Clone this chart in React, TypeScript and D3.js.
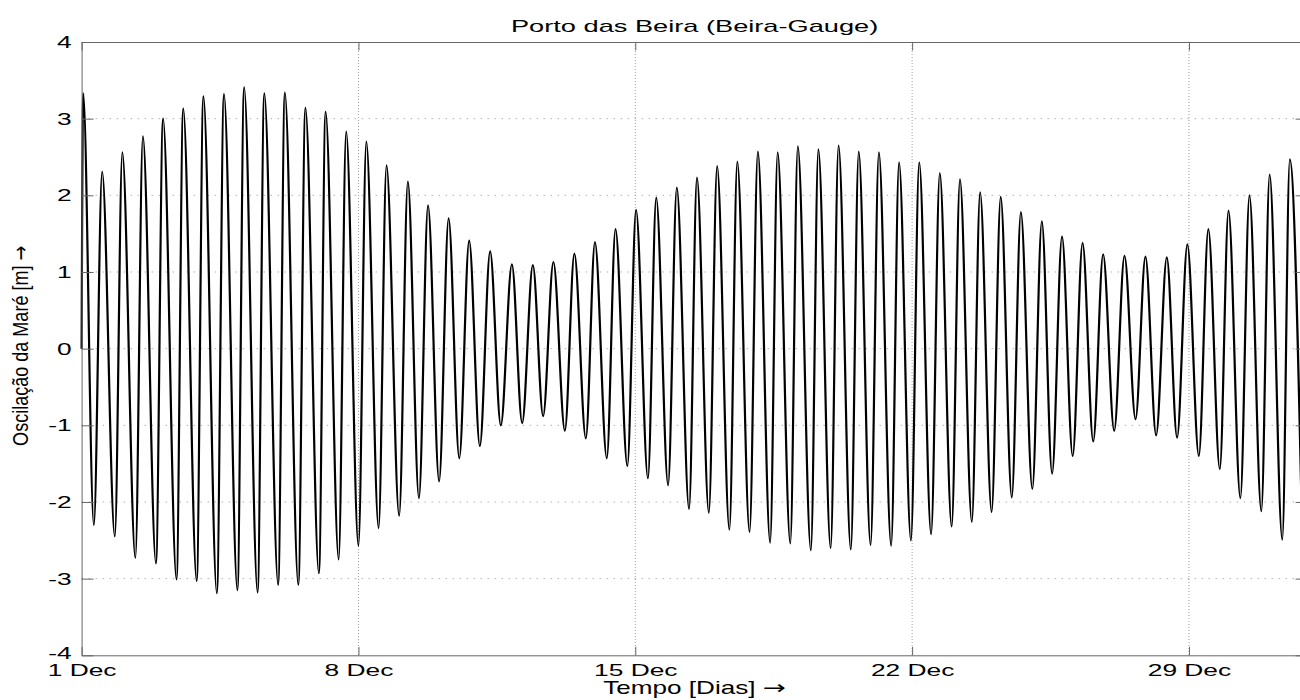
import { useEffect, useRef } from 'react';
import * as d3 from 'd3';

const title = 'Porto das Beira (Beira-Gauge)';
const xLabel = 'Tempo [Dias]';
const yLabel = 'Oscilação da Maré [m]';
const arrow = '→';

// x in days since 1 Dec 00:00
const dayDomain = [0, 31];
const dayTicks = [0, 7, 14, 21, 28];
const dayTickLabels = ['1 Dec', '8 Dec', '15 Dec', '22 Dec', '29 Dec'];
const levelTicks = [-4, -3, -2, -1, 0, 1, 2, 3, 4];

// first samples of the record (spike at the start)
const startTimes = [0.0, 0.04];
const startLevels = [0.0, 3.33];

// high waters (days, m)
const highTimes = [
  0.52, 1.03, 1.55, 2.06, 2.57, 3.08, 3.6, 4.11, 4.62, 5.14,
  5.66, 6.17, 6.69, 7.2, 7.71, 8.25, 8.76, 9.28, 9.8, 10.33,
  10.88, 11.41, 11.93, 12.46, 12.98, 13.5, 14.02, 14.53, 15.05, 15.56,
  16.07, 16.58, 17.1, 17.6, 18.11, 18.63, 19.14, 19.65, 20.16, 20.67,
  21.18, 21.7, 22.21, 22.72, 23.24, 23.75, 24.28, 24.79, 25.31, 25.83,
  26.37, 26.9, 27.44, 27.96, 28.49, 29.0, 29.53, 30.04, 30.55,
];
const highLevels = [
  2.31, 2.56, 2.77, 3.0, 3.13, 3.29, 3.32, 3.41, 3.33, 3.34,
  3.14, 3.09, 2.83, 2.7, 2.39, 2.18, 1.87, 1.7, 1.41, 1.27,
  1.1, 1.09, 1.13, 1.24, 1.39, 1.56, 1.81, 1.97, 2.1, 2.23,
  2.38, 2.44, 2.57, 2.56, 2.64, 2.6, 2.65, 2.57, 2.56, 2.43,
  2.43, 2.29, 2.21, 2.04, 1.98, 1.78, 1.66, 1.46, 1.38, 1.23,
  1.21, 1.2, 1.19, 1.36, 1.56, 1.8, 2.0, 2.27, 2.47,
];

// low waters (days, m)
const lowTimes = [
  0.31, 0.84, 1.36, 1.88, 2.4, 2.91, 3.42, 3.94, 4.45, 4.97,
  5.48, 6.0, 6.5, 7.0, 7.51, 8.03, 8.53, 9.04, 9.55, 10.07,
  10.6, 11.14, 11.67, 12.22, 12.75, 13.28, 13.8, 14.32, 14.83, 15.36,
  15.86, 16.38, 16.89, 17.41, 17.92, 18.44, 18.94, 19.45, 19.95, 20.47,
  20.97, 21.48, 22.0, 22.51, 23.01, 23.52, 24.04, 24.54, 25.06, 25.58,
  26.11, 26.65, 27.17, 27.7, 28.25, 28.78, 29.3, 29.83, 30.36, 30.87,
];
const lowLevels = [
  -2.3, -2.45, -2.73, -2.8, -3.01, -3.03, -3.19, -3.15, -3.18, -3.08,
  -3.08, -2.93, -2.75, -2.57, -2.34, -2.18, -1.95, -1.73, -1.43, -1.27,
  -1.0, -0.97, -0.88, -1.07, -1.17, -1.43, -1.53, -1.69, -1.78, -2.09,
  -2.14, -2.36, -2.39, -2.53, -2.54, -2.63, -2.6, -2.62, -2.56, -2.57,
  -2.5, -2.42, -2.32, -2.26, -2.13, -1.94, -1.83, -1.63, -1.4, -1.21,
  -1.07, -0.92, -1.13, -1.16, -1.4, -1.57, -1.95, -2.12, -2.49, -2.6,
];

const FONT = '"Liberation Sans", Arial, Helvetica, sans-serif';
const ARROW_FONT = '"DejaVu Sans", sans-serif';

export default function App() {
  const ref = useRef<SVGSVGElement | null>(null);

  useEffect(() => {
    const svg = d3.select(ref.current);
    svg.selectAll('*').remove();

    const margin = { top: 42, left: 81.6 };
    const width = 1226;
    const height = 613.3;

    const points = [
      ...startTimes.map((t, i) => [t, startLevels[i]]),
      ...highTimes.map((t, i) => [t, highLevels[i]]),
      ...lowTimes.map((t, i) => [t, lowLevels[i]]),
    ].sort((a, b) => a[0] - b[0]);

    const x = d3.scaleLinear().domain(dayDomain).range([0, width]);
    const y = d3.scaleLinear().domain([-4, 4]).range([height, 0]);

    const g = svg.append('g').attr('transform', `translate(${margin.left},${margin.top})`);

    // grid
    g.append('g')
      .selectAll('line')
      .data(levelTicks.slice(1, -1))
      .join('line')
      .attr('x1', 0)
      .attr('x2', width)
      .attr('y1', d => y(d))
      .attr('y2', d => y(d))
      .attr('stroke', '#b0b0b0')
      .attr('stroke-dasharray', '1.5,5.5');

    g.append('g')
      .selectAll('line')
      .data(dayTicks.slice(1))
      .join('line')
      .attr('x1', d => x(d))
      .attr('x2', d => x(d))
      .attr('y1', 0)
      .attr('y2', height)
      .attr('stroke', '#a0a0a0')
      .attr('stroke-dasharray', '1,2');

    // tide curve
    const line = d3.line()
      .x(d => x(d[0]))
      .y(d => y(d[1]))
      .curve(d3.curveMonotoneX);

    g.append('path')
      .datum(points)
      .attr('fill', 'none')
      .attr('stroke', '#000')
      .attr('stroke-width', 2.2)
      .attr('stroke-linejoin', 'round')
      .attr('d', line);

    // axes (MATLAB style, ticks inward)
    const styleAxis = sel => {
      sel.select('.domain').attr('stroke', '#666');
      sel.selectAll('.tick line').attr('stroke', '#666');
      sel.selectAll('text')
        .attr('fill', '#000')
        .attr('font-family', FONT)
        .attr('font-size', 17);
    };

    g.append('g')
      .attr('transform', `translate(0,${height})`)
      .call(d3.axisBottom(x)
        .tickValues(dayTicks)
        .tickFormat((d, i) => dayTickLabels[i])
        .tickSizeInner(-8.5)
        .tickSizeOuter(0)
        .tickPadding(9))
      .call(styleAxis)
      .selectAll('text')
      .attr('transform', 'scale(1.55,1)');

    g.append('g')
      .call(d3.axisTop(x).tickValues(dayTicks).tickFormat(() => '').tickSizeInner(-8.5).tickSizeOuter(0))
      .call(styleAxis);

    g.append('g')
      .call(d3.axisLeft(y)
        .tickValues(levelTicks)
        .tickFormat(d3.format('d'))
        .tickSizeInner(-12)
        .tickSizeOuter(0)
        .tickPadding(10))
      .call(styleAxis)
      .selectAll('text')
      .text(d => String(d))
      .attr('transform', 'scale(1.55,1)')
      .attr('x', -10 / 1.55)
      .attr('dy', d => (d === -4 ? '0.2em' : '0.32em'));

    g.append('g')
      .attr('transform', `translate(${width},0)`)
      .call(d3.axisRight(y).tickValues(levelTicks).tickFormat(() => '').tickSizeInner(-12).tickSizeOuter(0))
      .call(styleAxis);

    // labels
    svg.append('text')
      .attr('transform', `translate(${margin.left + width / 2},32) scale(1.6,1)`)
      .attr('text-anchor', 'middle')
      .attr('font-family', FONT)
      .attr('font-size', 17)
      .text(title);

    const xl = svg.append('text')
      .attr('transform', `translate(${margin.left + width / 2},694) scale(1.45,1)`)
      .attr('text-anchor', 'middle')
      .attr('font-family', FONT)
      .attr('font-size', 18);
    xl.append('tspan').text(xLabel + ' ');
    xl.append('tspan').attr('font-family', ARROW_FONT).attr('font-size', 19).text(arrow);

    const yl = svg.append('text')
      .attr('transform', `translate(28,${margin.top + height / 2 - 3}) rotate(-90) scale(0.82,1)`)
      .attr('text-anchor', 'middle')
      .attr('font-family', FONT)
      .attr('font-size', 22);
    yl.append('tspan').text(yLabel + ' ');
    yl.append('tspan').attr('font-family', ARROW_FONT).attr('font-size', 22).text(arrow);
  }, []);

  return (
    <div style={{ position: 'absolute', left: 0, top: 0, width: 1300, height: 700, background: '#fff' }}>
      <svg ref={ref} width={1300} height={700} style={{ display: 'block' }} />
    </div>
  );
}
